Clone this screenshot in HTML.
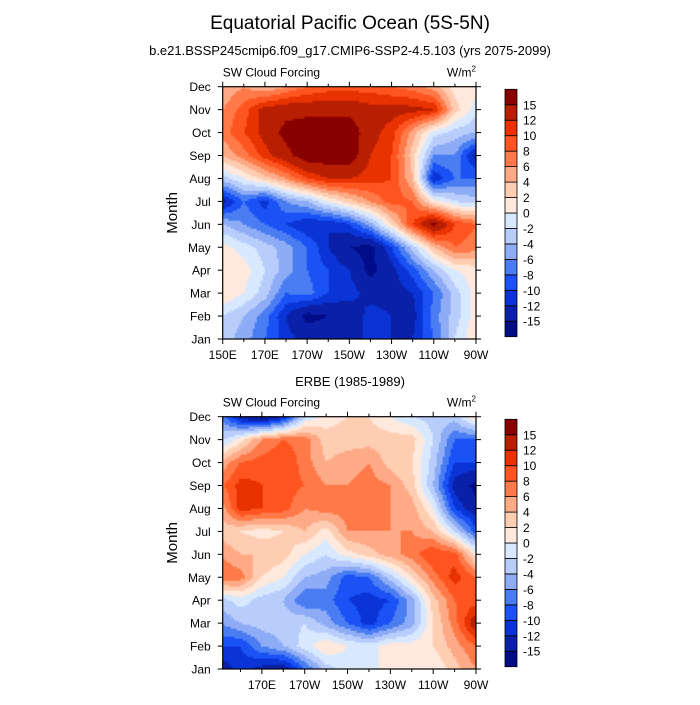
<!DOCTYPE html>
<html><head><meta charset="utf-8">
<style>
body{margin:0;background:#fff;}
svg text{font-family:"Liberation Sans",sans-serif;fill:#000;}
</style></head>
<body>
<svg id="chart" width="700" height="700" viewBox="0 0 700 700" xmlns="http://www.w3.org/2000/svg">
<rect width="700" height="700" fill="#fff"/>
<text x="350" y="29" font-size="19" text-anchor="middle">Equatorial Pacific Ocean (5S-5N)</text>
<text x="350" y="55" font-size="13" text-anchor="middle">b.e21.BSSP245cmip6.f09_g17.CMIP6-SSP2-4.5.103 (yrs 2075-2099)</text>
<text x="350" y="386" font-size="13" text-anchor="middle">ERBE (1985-1989)</text>
<g id="p1"></g>
<g id="p2"></g>
</svg>
<script>
const months=["Jan","Feb","Mar","Apr","May","Jun","Jul","Aug","Sep","Oct","Nov","Dec"];
const lons=[150,160,170,180,190,200,210,220,230,240,250,260,270];
const levels=[-15,-12,-10,-8,-6,-4,-2,0,2,4,6,8,10,12,15];
const levelLabels=["-15","-12","-10","-8","-6","-4","-2","0","2","4","6","8","10","12","15"];
const colors=["#000c88","#0a20a8","#0a34d6","#1a52f5","#4a7cf2","#8eabf5","#b8cdfc","#d8e8ff","#ffe9dc","#ffcdb2","#ffaa86","#ff7a48","#ff5520","#e83200","#b81e00","#880000"];
const ticksLonA=[150,170,190,210,230,250,270];
const tickLabelsA=["150E","170E","170W","150W","130W","110W","90W"];
const ticksLonB=[170,190,210,230,250,270];
const tickLabelsB=["170E","170W","150W","130W","110W","90W"];
// rows Jan..Dec, columns lons
const modelVals=[
[-3,-5,-8,-11,-13,-13,-12,-12,-12,-12,-8,-2,2],
[-2,-4,-7,-12,-16,-15,-14,-11,-12,-13,-7,-3,1],
[2,0,-3,-8,-7,-10,-11,-13,-13,-12,-8,-3,1],
[2,1,-2,-5,-8,-10,-12,-16,-13,-9,-4,0,1],
[1,-1,-3,-5,-8,-12,-15,-16,-10,-3,4,8,7],
[-4,-6,-8,-10,-12,-12,-10,-5,2,10,16,10,8],
[-13,-8,-11,-6,-4,0,3,6,9,8,1,-2,-3],
[-3,0,3,6,10,12,12,11,10,4,-12,-8,-8],
[4,7,11,14,17,17,17,12,10,3,-6,-6,-13],
[7,10,13,16,17,17,17,13,11,5,-1,-3,-4],
[6,9,13,14,14,14,14,13,13,13,12,3,-1],
[4,6,4,6,8,9,9,9,8,7,5,1,1]];
const erbeVals=[
[-14,-11,-13,-14,-8,-3,-1,-2,2,1,0,3,6],
[-10,-10,-6,-4,-1,2,0,-1,1,1,2,5,8],
[-6,-4,-3,-3,-2,-5,-8,-11,-8,-5,2,7,14],
[-3,-1,-3,-4,-8,-7,-10,-11,-10,-5,3,8,9],
[8,7,2,0,-4,-5,-9,-8,-3,2,7,11,8],
[6,4,4,3,0,-2,1,3,5,7,10,9,1],
[3,2,1,2,4,1,6,6,6,6,4,-2,-9],
[4,11,10,9,6,7,7,7,6,5,0,-10,-14],
[7,11,10,9,8,6,6,7,6,3,-4,-13,-16],
[4,8,9,10,7,4,5,6,3,2,-3,-10,-10],
[-3,1,6,8,7,3,3,3,3,3,-2,-8,-8],
[-6,-13,-16,-12,-2,1,2,2,0,-2,-3,-3,2]];

const NS="http://www.w3.org/2000/svg";
function mk(tag,attrs,parent){const e=document.createElementNS(NS,tag);for(const k in attrs)e.setAttribute(k,attrs[k]);parent.appendChild(e);return e;}
function colorFor(v){let i=0;while(i<levels.length&&v>=levels[i])i++;return colors[i];}
function sample(vals,lon,m){
  let fx=(lon-lons[0])/(lons[1]-lons[0]);fx=Math.max(0,Math.min(lons.length-1,fx));
  let fy=Math.max(0,Math.min(11,m));
  const x0=Math.min(Math.floor(fx),lons.length-2),y0=Math.min(Math.floor(fy),10);
  const tx=fx-x0,ty=fy-y0;
  const a=vals[y0][x0],b=vals[y0][x0+1],c=vals[y0+1][x0],d=vals[y0+1][x0+1];
  return (a*(1-tx)+b*tx)*(1-ty)+(c*(1-tx)+d*tx)*ty;
}
function panel(g,vals,top,lonMin,ticks,tickLabels){
  const L=222.7,R=476,T=top,B=top+252.3,lonMax=270;
  const xs=lon=>L+(lon-lonMin)/(lonMax-lonMin)*(R-L);
  const ys=m=>B-m/11*(B-T);
  const step=2;
  const fill=mk('g',{},g);
  
  
  function emit(x0,x1,py,col){
    const r=mk('rect',{x:x0.toFixed(2),y:py.toFixed(2),width:(x1-x0+0.4).toFixed(2),height:(Math.min(step,B-py)+0.4).toFixed(2),fill:col},fill);
    
    
  }
  for(let py=T;py<B;py+=step){
    const m=(B-(py+step/2))/(B-T)*11;
    let runStart=L,runColor=null;
    for(let px=L;px<R;px+=step){
      const cx=Math.min(px+step/2,R);
      const lon=lonMin+(cx-L)/(R-L)*(lonMax-lonMin);
      const col=colorFor(sample(vals,lon,m));
      if(col!==runColor){
        if(runColor!==null)emit(runStart,px,py,runColor);
        runStart=px;runColor=col;
      }
    }
    if(runColor!==null)emit(runStart,R,py,runColor);
  }
  const frame=mk('rect',{x:L,y:T,width:R-L,height:B-T,fill:'none',stroke:'#000','stroke-width':1.2},g);
  
  
  months.forEach((mn,i)=>{
    const y=ys(i);
    mk('line',{x1:L-5,x2:L,y1:y,y2:y,stroke:'#000','stroke-width':1},g);
    mk('line',{x1:R,x2:R+5,y1:y,y2:y,stroke:'#000','stroke-width':1},g);
    const t=mk('text',{x:L-12,y:y+4.5,'font-size':12,'text-anchor':'end'},g);
    t.textContent=mn;
    
    
  });
  for(let lon=150;lon<=270;lon+=10){
    if(lon<lonMin-0.01)continue;
    const x=xs(lon);const major=ticks.includes(lon);const len=major?5:3;
    mk('line',{x1:x,x2:x,y1:T-len,y2:T,stroke:'#000','stroke-width':1},g);
    mk('line',{x1:x,x2:x,y1:B,y2:B+len,stroke:'#000','stroke-width':1},g);
  }
  ticks.forEach((lon,i)=>{
    const t=mk('text',{x:xs(lon),y:B+20,'font-size':12,'text-anchor':'middle'},g);
    t.textContent=tickLabels[i];
    
    
  });
  const yl=mk('text',{x:0,y:0,'font-size':15,'text-anchor':'middle',transform:`translate(177,${(T+B)/2}) rotate(-90)`},g);
  yl.textContent='Month';
  
  
  const lt=mk('text',{x:L,y:T-10,'font-size':12},g);
  lt.textContent='SW Cloud Forcing';
  
  
  const ut=mk('text',{x:R,y:T-10,'font-size':12,'text-anchor':'end'},g);
  ut.innerHTML='W/m<tspan dy="-5" font-size="8">2</tspan>';
  
  
  const cx=505,cw=12,cT=top+2.6,cB=top+250;
  const bh=(cB-cT)/colors.length;
  colors.forEach((c,i)=>{
    const r=mk('rect',{x:cx,y:cB-(i+1)*bh,width:cw,height:bh,fill:c,stroke:'#000','stroke-width':0.8},g);
    
    
  });
  levelLabels.forEach((lab,i)=>{
    const t=mk('text',{x:523,y:cB-(i+1)*bh+4.5,'font-size':12},g);
    t.textContent=lab;
    
    
  });
}
panel(document.getElementById('p1'),modelVals,86.7,150,ticksLonA,tickLabelsA);
panel(document.getElementById('p2'),erbeVals,416.7,151.7,ticksLonB,tickLabelsB);
</script>
</body></html>
